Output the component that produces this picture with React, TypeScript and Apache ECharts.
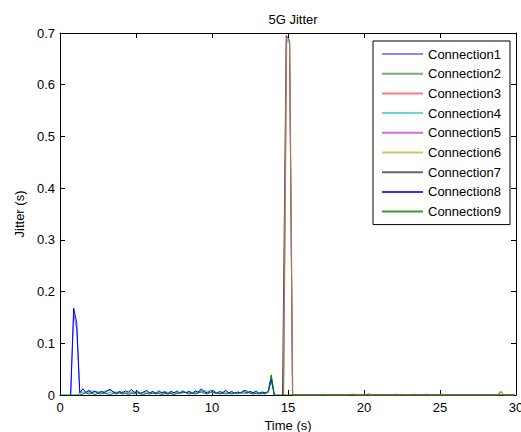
import React, { useEffect, useRef } from "react";
import * as echarts from "echarts";

const FONT = "'Liberation Sans', Arial, sans-serif";

const seriesNames = [
  "Connection1", "Connection2", "Connection3", "Connection4", "Connection5",
  "Connection6", "Connection7", "Connection8", "Connection9",
];
const seriesColors = [
  "#6a6aff", "#4f9a4f", "#ff5a5a", "#3fd0d0", "#d040d0",
  "#bcbc40", "#404040", "#0000ff", "#008000",
];
const seriesOpacity = [1, 0.8, 0.5, 1, 0.8, 0.8, 1, 1, 1];
const seriesZ = [6, 4, 5, 6, 3, 2, 1, 6, 7];

const xTicks = [0, 5, 10, 15, 20, 25, 30];
const yTicks = [0, 0.1, 0.2, 0.3, 0.4, 0.5, 0.6, 0.7];

const conn1: [number, number][] = [
  [0.7, 0], [0.9, 0.158], [1.1, 0.126], [1.3, 0.006], [1.7, 0.005], [2.1, 0.008], [2.5, 0.004],
  [2.9, 0.007], [3.3, 0.009], [3.7, 0.004], [4.1, 0.006], [4.5, 0.003], [4.9, 0.007], [5.3, 0.004],
  [5.7, 0.006], [6.1, 0.003], [6.5, 0.005], [6.9, 0.004], [7.3, 0.006], [7.7, 0.003], [8.1, 0.006],
  [8.5, 0.004], [8.9, 0.005], [9.3, 0.008], [9.7, 0.004], [10.1, 0.006], [10.5, 0.003], [10.9, 0.006],
  [11.3, 0.004], [11.7, 0.005], [12.1, 0.003], [12.5, 0.006], [12.9, 0.004], [13.3, 0.005],
  [13.7, 0.004], [13.9, 0.028], [14.1, 0],
];
const conn2: [number, number][] = [
  [14.7, 0], [14.9, 0.688], [15.1, 0.685], [15.3, 0], [29.9, 0],
];
const conn3: [number, number][] = [
  [14.72, 0], [14.92, 0.686], [15.12, 0.683], [15.32, 0], [22.3, 0], [22.5, 0.002], [22.7, 0],
  [23.1, 0], [23.3, 0.002], [23.5, 0], [28.8, 0], [29.0, 0.008], [29.2, 0], [29.9, 0],
];
const conn4: [number, number][] = [
  [1.1, 0], [1.3, 0.003], [1.7, 0.006], [2.1, 0.004], [2.5, 0.007], [2.9, 0.003], [3.3, 0.005],
  [3.7, 0.006], [4.1, 0.003], [4.5, 0.007], [4.9, 0.004], [5.3, 0.005], [5.7, 0.003], [6.1, 0.006],
  [6.5, 0.004], [6.9, 0.007], [7.3, 0.003], [7.7, 0.005], [8.1, 0.004], [8.5, 0.007], [8.9, 0.003],
  [9.5, 0.009], [9.9, 0.005], [10.3, 0.004], [10.7, 0.006], [11.1, 0.003], [11.5, 0.005],
  [11.9, 0.004], [12.3, 0.006], [12.7, 0.003], [13.1, 0.005], [13.5, 0.003], [13.7, 0.005],
  [13.9, 0.035], [14.1, 0],
];
const conn5: [number, number][] = [
  [14.7, 0], [14.9, 0.684], [15.1, 0.681], [15.3, 0], [19.1, 0], [19.3, 0.002], [19.5, 0],
  [20.1, 0], [20.3, 0.003], [20.5, 0], [21.9, 0], [22.1, 0.002], [22.3, 0], [23.9, 0],
  [24.1, 0.002], [24.3, 0], [29.9, 0],
];
const conn6: [number, number][] = [
  [14.71, 0], [14.91, 0.687], [15.11, 0.684], [15.31, 0], [17.1, 0], [17.3, 0.002], [17.5, 0],
  [18.9, 0], [19.1, 0.002], [19.3, 0], [24.9, 0], [25.1, 0.002], [25.3, 0], [28.8, 0],
  [29.0, 0.007], [29.2, 0], [29.9, 0],
];
const conn7: [number, number][] = [
  [14.64, 0], [14.88, 0.695], [15.1, 0.686], [15.3, 0], [28.8, 0], [29.0, 0.006], [29.2, 0],
  [29.9, 0],
];
const conn8: [number, number][] = [
  [0.7, 0], [0.9, 0.168], [1.1, 0.14], [1.3, 0.004], [1.5, 0.012], [1.7, 0.005], [1.9, 0.009],
  [2.1, 0.004], [2.3, 0.008], [2.5, 0.003], [2.7, 0.007], [2.9, 0.004], [3.1, 0.008], [3.3, 0.011],
  [3.5, 0.006], [3.7, 0.003], [3.9, 0.007], [4.1, 0.004], [4.3, 0.008], [4.5, 0.005], [4.7, 0.011],
  [4.9, 0.004], [5.1, 0.007], [5.3, 0.003], [5.5, 0.006], [5.7, 0.009], [5.9, 0.004], [6.1, 0.007],
  [6.3, 0.003], [6.5, 0.008], [6.7, 0.004], [6.9, 0.006], [7.1, 0.002], [7.3, 0.007], [7.5, 0.004],
  [7.7, 0.008], [7.9, 0.003], [8.1, 0.006], [8.3, 0.004], [8.5, 0.007], [8.7, 0.003], [8.9, 0.008],
  [9.1, 0.005], [9.3, 0.012], [9.5, 0.006], [9.7, 0.004], [9.9, 0.009], [10.1, 0.005], [10.3, 0.003],
  [10.5, 0.007], [10.7, 0.004], [10.9, 0.009], [11.1, 0.004], [11.3, 0.007], [11.5, 0.003],
  [11.7, 0.006], [11.9, 0.004], [12.1, 0.008], [12.3, 0.003], [12.5, 0.007], [12.7, 0.004],
  [12.9, 0.008], [13.1, 0.003], [13.3, 0.006], [13.5, 0.004], [13.7, 0.007], [13.9, 0.031], [14.1, 0],
];
const conn9: [number, number][] = [
  [0, 0], [1.3, 0], [1.5, 0.002], [1.7, 0.004], [1.9, 0.002], [2.1, 0.003], [2.3, 0.001],
  [2.5, 0.003], [2.7, 0.002], [2.9, 0.004], [3.1, 0.002], [3.3, 0.001], [3.5, 0.003], [3.7, 0.002],
  [3.9, 0.004], [4.1, 0.002], [4.3, 0.003], [4.5, 0.001], [4.7, 0.003], [4.9, 0.002], [5.1, 0.004],
  [5.3, 0.002], [5.5, 0.001], [5.7, 0.003], [5.9, 0.002], [6.1, 0.004], [6.3, 0.002], [6.5, 0.003],
  [6.7, 0.001], [6.9, 0.003], [7.1, 0.002], [7.3, 0.003], [7.5, 0.001], [7.7, 0.003], [7.9, 0.005],
  [8.1, 0.008], [8.3, 0.004], [8.5, 0.002], [8.7, 0.003], [8.9, 0.002], [9.1, 0.004], [9.3, 0.006],
  [9.5, 0.003], [9.7, 0.002], [9.9, 0.005], [10.1, 0.008], [10.3, 0.004], [10.5, 0.002],
  [10.7, 0.003], [10.9, 0.002], [11.1, 0.003], [11.3, 0.002], [11.5, 0.004], [11.7, 0.002],
  [11.9, 0.005], [12.1, 0.009], [12.3, 0.008], [12.5, 0.003], [12.7, 0.002], [12.9, 0.003],
  [13.1, 0.002], [13.3, 0.003], [13.5, 0.002], [13.7, 0.008], [13.9, 0.039], [14.1, 0], [29.9, 0],
];

const seriesData = [conn1, conn2, conn3, conn4, conn5, conn6, conn7, conn8, conn9];

export default function App() {
  const ref = useRef<HTMLDivElement>(null);
  useEffect(() => {
    document.body.style.margin = "0";
    const chart = echarts.init(ref.current!, null, { renderer: "svg" });
    const axisCommonX = {
      type: "value" as const,
      min: xTicks[0],
      max: xTicks[xTicks.length - 1],
      interval: xTicks[1] - xTicks[0],
      splitLine: { show: false },
      axisLine: { show: true, onZero: false, lineStyle: { color: "#000", width: 1 } },
      axisTick: { show: true, inside: true, length: 5, lineStyle: { color: "#000" } },
    };
    const axisCommonY = {
      type: "value" as const,
      min: yTicks[0],
      max: yTicks[yTicks.length - 1],
      interval: 0.1,
      splitLine: { show: false },
      axisLine: { show: true, onZero: false, lineStyle: { color: "#000", width: 1 } },
      axisTick: { show: true, inside: true, length: 5, lineStyle: { color: "#000" } },
    };
    chart.setOption({
      animation: false,
      backgroundColor: "#fff",
      title: {
        text: "5G Jitter",
        left: 288,
        top: 8,
        textAlign: "center",
        textStyle: { fontSize: 13, fontWeight: "normal", color: "#000", fontFamily: FONT },
      },
      grid: { left: 60, right: 5, top: 33, bottom: 37, containLabel: false, outerBoundsMode: "none" },
      legend: {
        data: seriesNames.map((name, i) => ({
          name,
          itemStyle: { color: seriesColors[i], opacity: 0.8, borderWidth: 0 },
        })),
        orient: "vertical",
        left: 373,
        top: 41,
        z: 10,
        backgroundColor: "#fff",
        borderColor: "#000",
        borderWidth: 1,
        borderRadius: 0,
        padding: [6, 9, 6, 9],
        icon: "rect",
        itemWidth: 41,
        itemHeight: 2,
        itemGap: 5.7,
        textStyle: { fontSize: 13, lineHeight: 14, color: "#000", fontFamily: FONT },
      },
      xAxis: [
        {
          ...axisCommonX,
          position: "bottom",
          axisLabel: { color: "#000", fontSize: 13, margin: 6, fontFamily: FONT },
          name: "Time (s)",
          nameLocation: "middle",
          nameGap: 22,
          nameTextStyle: { color: "#000", fontSize: 13, fontFamily: FONT },
        },
        { ...axisCommonX, position: "top", axisLabel: { show: false } },
      ],
      yAxis: [
        {
          ...axisCommonY,
          position: "left",
          axisLabel: {
            color: "#000",
            fontSize: 13,
            margin: 5,
            fontFamily: FONT,
            formatter: (v: number) => String(+v.toFixed(1)),
          },
          name: "Jitter (s)",
          nameLocation: "middle",
          nameGap: 32,
          nameTextStyle: { color: "#000", fontSize: 13, fontFamily: FONT },
        },
        { ...axisCommonY, position: "right", axisLabel: { show: false } },
      ],
      series: seriesNames.map((name, i) => ({
        name,
        type: "line",
        xAxisIndex: 0,
        yAxisIndex: 0,
        symbol: "none",
        showSymbol: false,
        z: seriesZ[i],
        color: seriesColors[i],
        itemStyle: { color: seriesColors[i] },
        lineStyle: { width: 1, color: seriesColors[i], opacity: seriesOpacity[i] },
        data: seriesData[i],
      })),
    });
    return () => chart.dispose();
  }, []);
  return <div ref={ref} style={{ width: 521, height: 432 }} />;
}
